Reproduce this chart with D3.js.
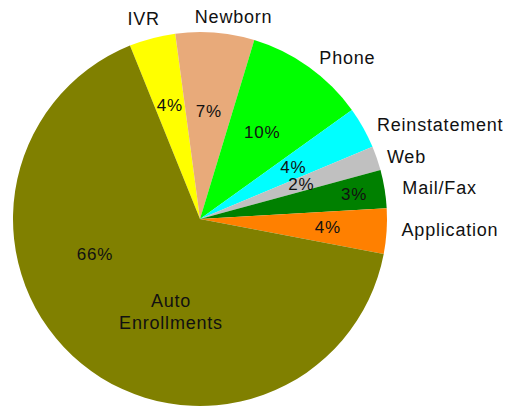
<!DOCTYPE html>
<html>
<head>
<meta charset="utf-8">
<script src="https://cdn.jsdelivr.net/npm/d3@7"></script>
<style>
  body { margin: 0; background: #fff; }
  text { font-family: "Liberation Sans", Arial, sans-serif; fill: #111; letter-spacing: 0.8px; }
</style>
</head>
<body>
<div id="chart"></div>
<script>
// slices, clockwise from the IVR edge
const categories = ['IVR', 'Newborn', 'Phone', 'Reinstatement', 'Web', 'Mail/Fax', 'Application', 'Auto Enrollments'];
const shares = [4.0, 6.8, 10.4, 3.6, 2.1, 3.3, 3.9, 65.9];
const sliceColors = ['#ffff00', '#e8aa7a', '#00ff00', '#00ffff', '#c0c0c0', '#008000', '#ff8000', '#808000'];

const width = 506, height = 407;
const cx = 200, cy = 219, radius = 187;

const svg = d3.select('#chart').append('svg')
	.attr('width', width)
	.attr('height', height);

const g = svg.append('g')
	.attr('transform', `translate(${cx},${cy})`);

const pieLayout = d3.pie()
	.sort(null)
	.value(d => d.value)
	.startAngle(-22 * Math.PI / 180)
	.endAngle(338 * Math.PI / 180);

const slices = pieLayout(categories.map((c, i) => ({name: c, value: shares[i], color: sliceColors[i]})));

const arcFn = d3.arc().innerRadius(0).outerRadius(radius);

g.selectAll('path.slice')
	.data(slices)
	.enter()
	.append('path')
	.attr('class', 'slice')
	.attr('d', arcFn)
	.attr('fill', d => d.data.color);

// how far out each percent label sits (Excel had a few moved by hand)
const pctRadius = {'IVR': 118, 'Newborn': 108, 'Mail/Fax': 156, 'Application': 128};
const midAngle = d => (d.startAngle + d.endAngle) / 2;

const inner = slices.filter(d => d.data.name !== 'Auto Enrollments');

g.selectAll('text.pct')
	.data(inner)
	.enter()
	.append('text')
	.attr('class', 'pct')
	.attr('font-size', 17)
	.attr('text-anchor', 'middle')
	.attr('dy', '0.35em')
	.attr('transform', d => {
		const r = pctRadius[d.data.name] || 107;
		return `translate(${d3.arc().innerRadius(r).outerRadius(r).centroid(d)})`;
	})
	.text(d => Math.round(d.value) + '%');

// outer category labels, with the small nudges Excel gave them
const outerR = 205;
const nudge = {
	'IVR': [-4, -2], 'Newborn': [17, 2], 'Phone': [0, 5], 'Reinstatement': [-2, 6],
	'Web': [-7, 4], 'Mail/Fax': [0, 2], 'Application': [-3, -3]
};
g.selectAll('text.cat')
	.data(inner)
	.enter()
	.append('text')
	.attr('class', 'cat')
	.attr('font-size', 18)
	.attr('dy', '0.35em')
	.attr('text-anchor', d => Math.sin(midAngle(d)) > 0.3 ? 'start' : 'middle')
	.attr('transform', d => {
		const [x, y] = d3.arc().innerRadius(outerR).outerRadius(outerR).centroid(d);
		const [nx, ny] = nudge[d.data.name] || [0, 0];
		return `translate(${x + nx},${y + ny})`;
	})
	.text(d => d.data.name);

// the big slice carries its own labels inside
const auto = slices.find(d => d.data.name === 'Auto Enrollments');
g.append('text')
	.attr('font-size', 17)
	.attr('text-anchor', 'middle')
	.attr('dy', '0.35em')
	.attr('x', -105).attr('y', 35)
	.text(Math.round(auto.value) + '%');

const autoLbl = g.append('text')
	.attr('font-size', 18)
	.attr('text-anchor', 'middle')
	.attr('x', -29).attr('y', 88);
autoLbl.append('tspan').attr('x', -29).attr('dy', 0).text('Auto');
autoLbl.append('tspan').attr('x', -29).attr('dy', 22).text('Enrollments');
</script>
</body>
</html>
